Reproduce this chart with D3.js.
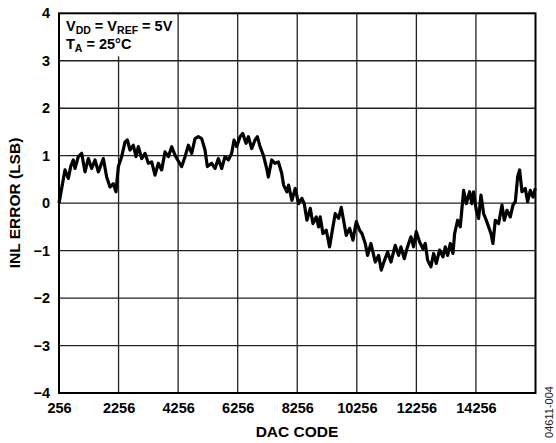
<!DOCTYPE html>
<html><head><meta charset="utf-8">
<script src="https://cdn.jsdelivr.net/npm/d3@7"></script>
<style>body{margin:0;background:#fff}svg{display:block}text{font-family:"Liberation Sans",Arial,Helvetica,sans-serif}</style>
</head><body>
<svg id="c" width="556" height="443"></svg>
<script>
const xTicks = [256, 2256, 4256, 6256, 8256, 10256, 12256, 14256];
const yTicks = [-4, -3, -2, -1, 0, 1, 2, 3, 4];
const codes = [256,457,569,648,737,793,905,1017,1129,1241,1353,1465,1577,1745,1857,1969,2081,2170,2249,2361,2473,2551,2640,2752,2842,2920,3032,3144,3256,3368,3480,3592,3704,3816,3928,4040,4152,4241,4376,4488,4600,4712,4823,4935,5047,5159,5238,5383,5495,5607,5719,5831,5943,6055,6133,6223,6335,6424,6536,6615,6727,6839,6917,7007,7118,7230,7286,7398,7510,7622,7734,
7797,7909,7965,8077,8189,8301,8413,8491,8581,8693,8782,8894,8972,9028,9118,9230,9342,9454,9532,9644,9734,9812,9902,10014,10126,10237,10349,10428,10540,10618,10730,10876,10988,11077,11189,11290,11402,11547,11659,11738,11850,11939,12073,12163,12253,12365,12476,12555,12633,12745,12835,12924,13036,13148,13227,13305,13395,13484,13540,13641,13730,13842,13932,14044,14122,14178,14268,14346,14424,14514,14604,14682,14760,14827,14906,15018,15130,15208,15298,15410,15499,15578,15656,15723,15801,15913,15992,16081,16171,16249];
const inlError = [0.00,0.70,0.52,0.77,0.91,0.73,0.98,1.05,0.66,0.94,0.73,0.91,0.66,0.94,0.55,0.34,0.41,0.24,0.77,0.98,1.29,1.33,1.12,1.22,0.98,1.19,0.94,1.05,0.84,0.87,0.59,0.84,0.70,1.08,0.98,1.19,1.01,0.91,0.77,0.98,1.22,1.05,1.36,1.40,1.36,1.12,0.77,0.84,0.73,0.94,0.73,0.98,0.91,1.05,1.33,1.19,1.40,1.47,1.26,1.40,1.15,1.33,1.40,1.19,1.01,0.73,0.55,0.91,0.84,0.87,0.63,
0.38,0.24,0.38,0.06,0.31,-0.01,0.10,-0.01,-0.36,-0.11,-0.43,-0.29,-0.50,-0.29,-0.64,-0.57,-0.92,-0.50,-0.22,-0.32,-0.09,-0.36,-0.68,-0.53,-0.78,-0.39,-0.57,-0.64,-0.85,-1.10,-0.85,-1.24,-1.10,-1.41,-1.20,-1.03,-1.24,-0.89,-1.10,-0.92,-1.17,-0.96,-0.71,-0.92,-0.60,-0.82,-0.96,-0.85,-1.20,-1.34,-1.06,-1.27,-0.99,-1.13,-0.92,-1.10,-0.85,-1.06,-0.64,-0.36,-0.50,0.27,-0.01,0.24,-0.01,0.24,-0.15,-0.32,0.17,-0.22,-0.36,-0.50,-0.64,-0.85,-0.36,-0.43,-0.04,-0.36,-0.15,-0.29,-0.04,0.03,0.55,0.70,0.24,0.31,0.03,0.27,0.13,0.31];
const xLabel = "DAC CODE";
const yLabel = "INL ERROR (LSB)";
const figId = "04611-004";

const svg = d3.select("#c");
const L = 59, R = 535.5, T = 13.3, B = 393;
const x = d3.scaleLinear().domain([256, 16256]).range([L, R]);
const y = d3.scaleLinear().domain([-4, 4]).range([B, T]);
const fmtY = d => d < 0 ? "\u2212" + Math.abs(d) : String(d);

// grid
svg.append("g").selectAll("line").data(xTicks.slice(1)).join("line")
  .attr("x1", d => x(d)).attr("x2", d => x(d)).attr("y1", T).attr("y2", B)
  .attr("stroke", "#222").attr("stroke-width", 1.3);
svg.append("g").selectAll("line").data(yTicks.slice(1, -1)).join("line")
  .attr("x1", L).attr("x2", R).attr("y1", d => y(d)).attr("y2", d => y(d))
  .attr("stroke", "#222").attr("stroke-width", 1.3);

// white box behind annotation
svg.append("rect").attr("x", L + 1).attr("y", T + 1).attr("width", 100).attr("height", 42).attr("fill", "#fff");

// line
const line = d3.line().x((d, i) => x(codes[i])).y(d => y(d));
svg.append("path").datum(inlError).attr("d", line)
  .attr("fill", "none").attr("stroke", "#000").attr("stroke-width", 3.2).attr("stroke-linejoin", "round");

// frame
svg.append("rect").attr("x", L).attr("y", T).attr("width", R - L).attr("height", B - T)
  .attr("fill", "none").attr("stroke", "#000").attr("stroke-width", 2);

// axes labels
const yAxis = d3.axisLeft(y).tickValues(yTicks).tickFormat(fmtY).tickSize(0).tickPadding(9);
const gy = svg.append("g").attr("transform", `translate(${L},0)`).call(yAxis);
gy.select(".domain").remove();
gy.selectAll("text").attr("font-size", 14.5).attr("font-weight", "bold").attr("fill", "#000").attr("dy", "0.32em");

const xAxis = d3.axisBottom(x).tickValues(xTicks).tickSize(0).tickPadding(10).tickFormat(d3.format("d"));
const gx = svg.append("g").attr("transform", `translate(0,${B})`).call(xAxis);
gx.select(".domain").remove();
gx.selectAll("text").attr("font-size", 14.5).attr("font-weight", "bold").attr("fill", "#000");

svg.append("text").attr("x", 297).attr("y", 437).attr("text-anchor", "middle")
  .attr("font-size", 15.5).attr("font-weight", "bold").text(xLabel);
svg.append("text").attr("transform", "translate(20,203) rotate(-90)").attr("text-anchor", "middle")
  .attr("font-size", 15.5).attr("font-weight", "bold").text(yLabel);

// annotation
const a1 = svg.append("text").attr("x", 66).attr("y", 31).attr("font-size", 14.5).attr("font-weight", "bold");
a1.append("tspan").text("V");
a1.append("tspan").attr("font-size", 10.5).attr("dy", 3).text("DD");
a1.append("tspan").attr("dy", -3).text(" = V");
a1.append("tspan").attr("font-size", 10.5).attr("dy", 3).text("REF");
a1.append("tspan").attr("dy", -3).text(" = 5V");
const a2 = svg.append("text").attr("x", 66).attr("y", 49).attr("font-size", 14.5).attr("font-weight", "bold");
a2.append("tspan").text("T");
a2.append("tspan").attr("font-size", 10.5).attr("dy", 3).text("A");
a2.append("tspan").attr("dy", -3).text(" = 25°C");

svg.append("text").attr("transform", "translate(553,412) rotate(-90)").attr("text-anchor", "middle")
  .attr("font-size", 11).attr("fill", "#222").text(figId);
</script>
</body></html>
